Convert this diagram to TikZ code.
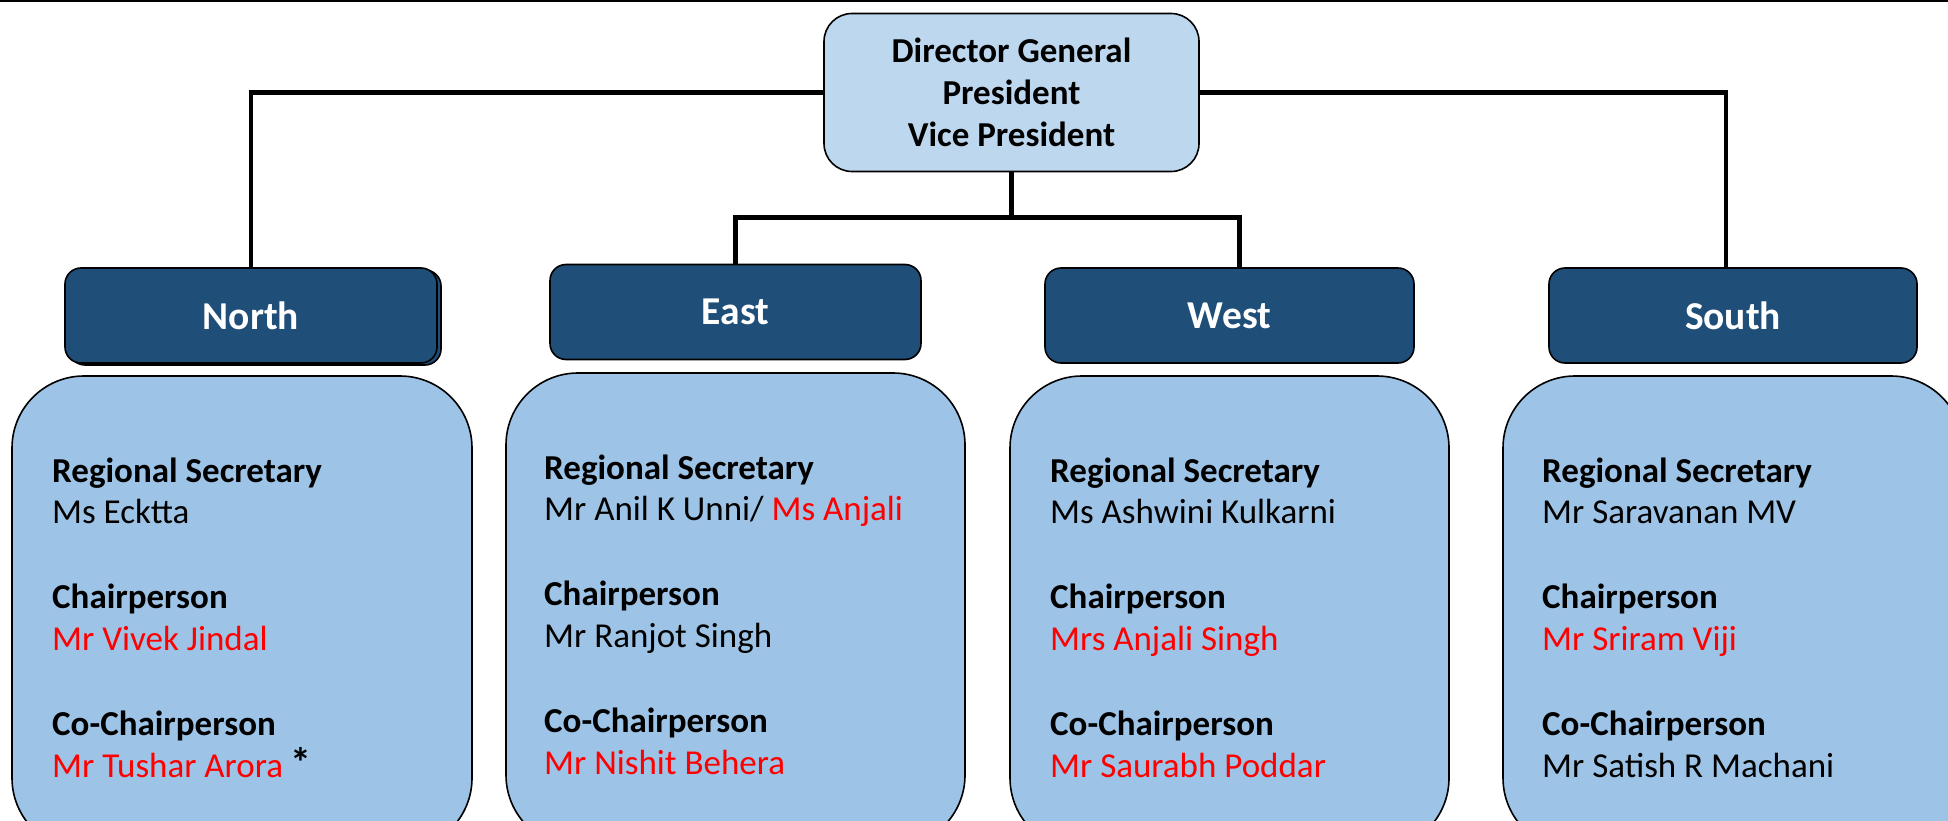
\documentclass[tikz,border=0pt]{standalone}
\usepackage{fontspec}
\setmainfont{Carlito}
\definecolor{hdrblue}{HTML}{1F4E79}
\definecolor{topblue}{HTML}{BDD7EE}
\definecolor{boxblue}{HTML}{9DC3E6}
\definecolor{namered}{HTML}{FF0000}
\newcommand\memberlines[6]{%
  \node[role]   (#1r1) at (#2,#3)     {Regional Secretary};
  \node[person] (#1p1) at (#2,#3+41)  {#4};
  \node[role]   (#1r2) at (#2,#3+126) {Chairperson};
  \node[person] (#1p2) at (#2,#3+168) {#5};
  \node[role]   (#1r3) at (#2,#3+253) {Co-Chairperson};
  \node[person] (#1p3) at (#2,#3+295) {#6};
}
\begin{document}
\begin{tikzpicture}[x=1pt,y=-1pt,
  topbox/.style={draw=black, line width=1.6pt, fill=topblue, rounded corners=28pt, inner sep=0pt, align=center, font=\fontsize{35}{42}\selectfont\bfseries},
  hdrbox/.style={draw=black, line width=1.6pt, fill=hdrblue, rounded corners=16pt, minimum height=95pt, inner sep=0pt, text=white, font=\fontsize{39.5}{44}\selectfont\bfseries},
  membox/.style={draw=black, line width=1.6pt, fill=boxblue, rounded corners=72pt, minimum height=474pt, inner sep=0pt},
  role/.style={anchor=base west, inner sep=0pt, font=\fontsize{35}{40}\selectfont\bfseries},
  person/.style={anchor=base west, inner sep=0pt, font=\fontsize{35}{40}\selectfont},
  link/.style={draw=black, line width=4.5pt},
]
\useasboundingbox (0,0) rectangle (1948,821);
\begin{scope}
\clip (0,0) rectangle (1948,821);
\fill[white] (0,0) rectangle (1948,821);
\draw[line width=2pt] (0,1) -- (1948,1);

% director box
\node[topbox, minimum width=375pt, minimum height=158pt] (dg) at (1011.5,92.5)
  {Director General\\President\\Vice President};

% region headers
\draw[line width=1.6pt, fill=hdrblue, rounded corners=16pt] (69,270) rectangle (441,365);
\node[hdrbox, minimum width=372pt] (nhdr) at (251,315.5) {North};
\node[hdrbox, minimum width=371pt] (ehdr) at (735.5,312) {East};
\node[hdrbox, minimum width=369pt] (whdr) at (1229.5,315.5) {West};
\node[hdrbox, minimum width=368pt] (shdr) at (1733,315.5) {South};

% member boxes
\node[membox, minimum width=460pt] (nbox) at (242,613) {};
\node[membox, minimum width=459pt] (ebox) at (735.5,610) {};
\node[membox, minimum width=439pt] (wbox) at (1229.5,613) {};
\node[membox, minimum width=460pt] (sbox) at (1733,613) {};

\memberlines{n}{52}{482}{Ms Ecktta}{\color{namered}Mr Vivek Jindal}{\color{namered}Mr Tushar Arora \textcolor{black}{\bfseries\fontsize{42}{40}\selectfont *}}
\memberlines{e}{544}{479}{Mr Anil K Unni/ \textcolor{namered}{Ms Anjali}}{Mr Ranjot Singh}{\color{namered}Mr Nishit Behera}
\memberlines{w}{1050}{482}{Ms Ashwini Kulkarni}{\color{namered}Mrs Anjali Singh}{\color{namered}Mr Saurabh Poddar}
\memberlines{s}{1542}{482}{Mr Saravanan MV}{\color{namered}Mr Sriram Viji}{Mr Satish R Machani}

% connectors
\draw[link] (dg.west) -| (nhdr.north);
\draw[link] (dg.east) -| ([xshift=-7pt]shdr.north);
\draw[link] (dg.south) -- ++(0,45) coordinate (mid);
\draw[link] (mid) -| (ehdr.north);
\draw[link] (mid) -| ([xshift=10pt]whdr.north);
\end{scope}
\end{tikzpicture}
\end{document}
